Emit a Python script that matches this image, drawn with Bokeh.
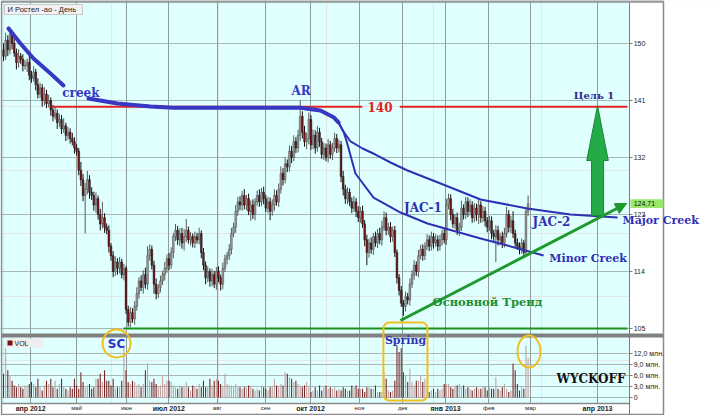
from bokeh.plotting import figure
from bokeh.models import Range1d, FixedTicker, Grid, Label, Arrow, NormalHead, ColumnDataSource
from bokeh.embed import file_html
from bokeh.resources import INLINE
from bokeh.core.properties import value

# ---------------- data ----------------
first_open = 149.0
close = [
    148, 150.5, 149, 151.5, 150, 148.5, 147, 148, 147.5, 146.5,
    146.5, 147, 145, 144.5, 145.5, 143.5, 142, 143, 141, 142,
    140.5, 141, 139.5, 138.5, 139, 137.5, 138, 136.5, 137, 135.5,
    136, 135, 134.5, 133.5, 133, 130, 128.5, 126, 127, 128.5,
    126.5, 126, 124.5, 125.5, 123, 121.5, 122.5, 121, 120.5, 118,
    116.5, 114, 115.5, 114.5, 115.5, 113.5, 114.5, 108, 106, 107.5,
    106.5, 108.5, 110.5, 112.5, 111.5, 113.5, 112, 116.5, 117.5, 115,
    112, 110.5, 111.5, 112.5, 113.5, 114.5, 116, 115, 117, 119.5,
    120.5, 119, 120, 118.5, 119.5, 120.5, 119, 119.5, 118.5, 119.5,
    119, 120, 117, 115, 113, 114, 112.5, 113.5, 112, 114,
    113, 112, 114.5, 116, 116.5, 117.5, 120, 121, 123.5, 125,
    124.5, 126, 124.5, 125.5, 123.5, 124.5, 123, 125, 126, 125,
    126.5, 125.5, 124, 125, 123.5, 124.5, 126, 125, 127, 129.5,
    128.5, 131, 130.5, 133, 132, 134.5, 133.5, 135.5, 138.5, 136,
    134.5, 135, 138, 134, 135.5, 133.5, 136, 134.5, 132.5, 133.5,
    132, 134, 132.5, 133.5, 135, 133.5, 134, 129, 127, 125.5,
    126.5, 125, 124, 125, 123.5, 122.5, 123.5, 121.5, 119, 117,
    118.5, 117.5, 119.5, 118.5, 120, 119, 121, 122.5, 120.5, 121,
    119.5, 120.5, 117, 113, 111, 109, 108.5, 110, 109.5, 112,
    113.5, 115, 114, 116.5, 117.5, 116.5, 118, 119, 118, 119.5,
    118.5, 119, 118, 119, 120, 119, 124.5, 125.5, 123, 121.5,
    122.5, 120.5, 121, 124, 123, 125, 123.5, 124.5, 122.5, 124,
    123, 124.5, 122.5, 123.5, 122, 121, 122, 120, 119.5, 120.5,
    119, 119.5, 118.5, 120, 123, 121, 122, 120, 118.5, 118,
    117.5, 118.5, 117, 123.5, 124.71,
]
wick_up = [
    1.0, 1.2, 0.8, 1.0, 0.6, 0.9, 0.7, 1.1, 0.5, 0.8,
    0.9, 0.6, 1.2, 0.7, 0.9, 0.5, 1.0, 0.8, 0.6, 1.1,
    0.7, 0.9, 0.5, 0.8, 1.0, 0.6, 0.9, 0.7, 1.2, 0.5,
    0.8, 0.6, 0.9, 0.7, 0.6, 0.5, 1.3, 0.9, 1.0, 1.4,
    0.7, 0.8, 0.6, 1.0, 0.5, 0.9, 2.5, 0.7, 0.6, 0.8,
    0.5, 0.7, 0.9, 0.6, 0.8, 0.5, 0.7, 0.4, 0.6, 0.9,
    0.7, 0.8, 1.0, 0.6, 0.9, 0.7, 1.1, 1.5, 0.8, 0.6,
    0.7, 0.9, 0.5, 0.8, 0.6, 1.0, 0.7, 0.9, 0.8, 0.6,
    1.0, 0.7, 0.8, 0.9, 1.2, 1.8, 0.6, 0.7, 0.5, 0.8,
    0.6, 0.9, 0.5, 0.7, 0.6, 0.8, 0.5, 0.9, 0.6, 0.7,
    0.8, 0.5, 0.9, 0.7, 0.6, 0.8, 0.9, 0.7, 1.0, 0.8,
    0.9, 0.7, 1.0, 0.6, 0.8, 0.7, 0.9, 0.6, 0.8, 1.0,
    0.7, 0.9, 0.6, 0.8, 0.7, 0.9, 1.0, 0.8, 0.9, 1.1,
    0.8, 1.0, 0.7, 0.9, 0.8, 1.0, 0.7, 0.9, 2.5, 0.8,
    1.0, 0.9, 1.1, 0.7, 0.9, 0.8, 1.0, 0.7, 0.6, 0.8,
    0.7, 0.9, 0.6, 0.8, 0.9, 0.7, 0.8, 0.6, 0.9, 0.7,
    0.8, 0.6, 0.7, 0.9, 0.6, 0.8, 0.7, 0.9, 0.6, 0.8,
    0.7, 0.9, 0.6, 0.8, 0.7, 0.9, 1.0, 1.0, 0.8, 0.7,
    0.8, 0.6, 0.7, 0.5, 0.6, 0.7, 0.5, 0.8, 0.6, 0.9,
    0.7, 0.8, 0.6, 0.9, 0.7, 0.8, 0.6, 0.9, 0.7, 0.8,
    0.6, 0.9, 0.7, 0.8, 0.6, 0.7, 1.0, 0.8, 0.7, 0.9,
    0.6, 0.8, 0.7, 1.2, 0.6, 0.8, 0.7, 0.9, 0.6, 0.8,
    0.7, 0.9, 0.6, 0.8, 0.7, 0.6, 0.8, 0.7, 0.6, 0.8,
    0.7, 0.6, 0.8, 0.9, 1.2, 0.7, 0.8, 1.5, 0.6, 0.7,
    0.6, 0.7, 0.5, 0.6, 1.3,
]
wick_dn = [
    0.8, 0.6, 1.0, 0.7, 0.9, 0.6, 1.1, 0.8, 0.7, 0.9,
    0.6, 1.0, 0.8, 0.7, 0.5, 0.9, 0.7, 0.6, 1.0, 0.8,
    0.7, 0.6, 0.9, 0.8, 0.5, 1.0, 0.7, 0.8, 0.6, 0.9,
    0.7, 0.8, 0.6, 0.9, 0.7, 0.8, 1.0, 0.9, 6.0, 0.8,
    1.0, 0.7, 0.9, 1.2, 0.8, 1.0, 0.7, 0.9, 0.6, 1.0,
    0.8, 0.9, 0.7, 1.0, 0.8, 0.6, 0.9, 0.7, 0.7, 0.8,
    0.6, 0.9, 0.7, 0.8, 0.6, 1.0, 0.7, 0.9, 0.8, 0.7,
    1.5, 0.9, 0.7, 0.8, 0.6, 0.9, 0.7, 0.8, 0.6, 0.9,
    0.7, 0.8, 1.0, 0.9, 1.2, 0.8, 0.6, 0.9, 0.7, 0.8,
    0.6, 0.7, 0.9, 0.8, 1.0, 0.7, 0.9, 0.8, 0.6, 0.9,
    0.7, 1.0, 0.8, 0.6, 0.9, 0.7, 0.8, 0.6, 0.9, 0.7,
    0.8, 0.9, 0.7, 0.8, 0.6, 1.5, 0.7, 0.9, 0.6, 0.8,
    0.7, 0.9, 0.6, 0.8, 1.4, 0.7, 0.9, 0.6, 0.8, 0.7,
    0.9, 0.6, 0.8, 0.7, 0.9, 0.6, 0.8, 0.7, 0.9, 1.0,
    0.8, 1.2, 0.9, 0.8, 0.7, 0.9, 0.6, 0.8, 0.7, 0.9,
    0.6, 0.8, 0.7, 0.9, 0.6, 0.8, 0.7, 0.9, 1.0, 0.8,
    0.9, 0.7, 0.8, 0.6, 0.9, 0.7, 0.8, 0.6, 1.0, 2.0,
    0.8, 0.7, 0.9, 0.6, 0.8, 0.7, 0.9, 0.6, 0.8, 0.7,
    0.9, 0.8, 0.7, 0.9, 0.8, 0.6, 1.5, 0.8, 0.7, 0.9,
    0.6, 0.8, 0.7, 0.9, 0.6, 0.8, 0.7, 0.6, 0.8, 0.7,
    0.9, 0.6, 0.8, 0.7, 0.9, 0.6, 0.8, 0.7, 0.9, 0.6,
    0.8, 0.7, 0.9, 0.6, 0.8, 0.7, 0.9, 0.6, 0.8, 0.7,
    1.0, 1.5, 0.8, 0.7, 0.9, 0.8, 0.6, 0.9, 0.7, 4.0,
    0.9, 0.6, 0.8, 0.7, 0.6, 0.8, 0.9, 0.7, 0.8, 0.6,
    0.8, 0.7, 0.9, 0.6, 0.7,
]
volume_mln = [
    6.5, 13.4, 7.4, 6.0, 4.6, 3.3, 2.8, 3.7, 2.8, 2.4,
    3.3, 3.3, 3.7, 4.2, 3.7, 2.8, 5.1, 2.8, 1.9, 3.3,
    4.6, 3.7, 5.1, 2.8, 4.6, 2.4, 3.7, 5.1, 2.8, 2.4,
    1.9, 2.8, 2.4, 5.1, 3.3, 2.4, 6.9, 4.2, 2.8, 3.3,
    3.7, 2.4, 2.8, 5.1, 5.1, 6.5, 4.2, 7.4, 4.6, 4.6,
    3.3, 5.1, 2.4, 2.8, 2.8, 4.6, 13.5, 7.4, 4.2, 3.7,
    4.6, 4.2, 3.3, 3.7, 2.8, 3.7, 7.4, 9.3, 4.6, 4.2,
    5.1, 3.7, 2.8, 3.3, 6.0, 3.7, 4.6, 4.6, 4.2, 3.3,
    2.8, 2.4, 3.3, 2.8, 2.8, 4.2, 2.8, 1.9, 3.3, 2.8,
    2.4, 3.7, 2.8, 4.6, 2.8, 2.8, 5.1, 3.3, 4.6, 5.1,
    4.6, 3.7, 2.8, 6.5, 3.7, 3.3, 3.3, 2.8, 3.7, 2.8,
    2.8, 2.4, 2.8, 2.8, 3.3, 3.3, 2.4, 1.9, 2.4, 1.9,
    3.3, 2.8, 2.4, 1.9, 2.8, 2.8, 5.1, 3.3, 2.8, 3.7,
    3.3, 6.9, 6.5, 5.5, 5.1, 4.2, 4.6, 3.7, 3.3, 2.8,
    3.3, 4.2, 2.8, 1.5, 1.9, 2.8, 1.9, 3.3, 1.9, 2.8,
    3.3, 2.4, 2.8, 2.4, 2.8, 1.9, 2.4, 1.9, 2.8, 2.4,
    1.9, 1.9, 3.3, 2.8, 3.3, 2.4, 2.4, 2.4, 1.5, 2.8,
    2.8, 2.4, 2.4, 3.3, 1.5, 1.5, 1.5, 6.9, 5.1, 1.9,
    1.5, 1.9, 4.6, 14.2, 12.4, 13.4, 6.9, 6.0, 4.2, 7.9,
    4.2, 3.3, 4.6, 4.6, 6.0, 4.2, 5.1, 2.8, 1.5, 1.9,
    2.4, 1.5, 2.4, 1.9, 2.4, 3.7, 3.7, 3.7, 2.8, 2.4,
    3.3, 3.3, 3.7, 2.8, 3.3, 2.4, 2.8, 2.4, 1.9, 2.4,
    2.8, 2.4, 2.4, 2.8, 2.8, 1.9, 2.8, 2.4, 2.4, 5.5,
    2.4, 1.9, 2.8, 3.7, 2.4, 1.5, 1.9, 9.3, 7.4, 3.7,
    1.9, 2.8, 2.4, 14.2, 10.9,
]

month_pos = [12.6, 34.0, 57.2, 76.9, 99.4, 121.9, 142.8, 165.6, 185.7, 205.6, 225.7, 245.1, 276.3]
month_labels = ["апр 2012", "май", "июн", "июл 2012", "авг", "сен", "окт 2012",
                "ноя", "дек", "янв 2013", "фев", "мар", "апр 2013"]
month_major = [True, False, False, True, False, False, True, False, False, True, False, False, True]

price_ticks = [105, 114, 123, 132, 141, 150]
vol_ticks = [0, 3, 6, 9, 12]
vol_tick_labels = ["0", "3,0 млн.", "6,0 млн.", "9,0 млн.", "12,0 млн."]
last_price = 124.71
level_140 = 140
level_105 = 105
target_price = 140.2

# annotation geometry in data space (bar index, price)
creek_top_x = [2.33, 7.9, 13.95, 21.86, 27.9]
creek_top_y = [152.37, 150.0, 147.63, 145.26, 143.37]
creek_x = [39.5, 53.0, 68.4, 79.1, 138.1, 147.4, 153.5, 155.8]
creek_y = [141.32, 140.53, 140.05, 139.85, 139.85, 139.42, 138.36, 137.53]
major_x = [155.8, 158.1, 161.4, 167.0, 173.0, 180.0, 187.9, 203.3, 221.9, 243.7, 263.7, 285.6]
major_y = [137.53, 136.1, 134.53, 133.42, 132.47, 131.21, 129.95, 127.89, 125.37, 123.95, 123.0, 122.52]
minor_x = [155.8, 158.1, 159.5, 163.7, 172.1, 184.7, 197.2, 221.9, 234.4, 251.2]
minor_y = [137.53, 136.1, 134.68, 129.47, 125.68, 123.31, 121.58, 119.21, 118.1, 116.52]
trend_x = [184.65, 289.8]
trend_y = [106.26, 124.74]

# ---------------- frame geometry (whole canvas is the frame) ----------------
X_LO, X_HI = -1.3953, 333.488        # bar-index range across the 720 px canvas
P_LO, P_HI = 91.263, 156.789         # price range across the 415 px canvas
V_LO, V_HI = -4.909, 108.273         # volume (млн.) range across the canvas
X_PLOT = 291.163                     # right edge of the plotting area (price axis line)
X_BORDER = 306.977                   # outer right border of the chart box
X_LEFT = -0.93
P_TOP = 156.63
P_SEP_TOP, P_SEP_BOT = 104.21, 103.58
P_ROW_TOP, P_ROW_BOT = 93.158, 91.421
P_ROW_MID = 92.37


def vol_to_price(v):
    return P_LO + (v - V_LO) * (P_HI - P_LO) / (V_HI - V_LO)


n = min(len(close), len(wick_up), len(wick_dn), len(volume_mln))
idx = list(range(n))
opens = [first_open] + close[:n - 1]
tops = [max(o, c) for o, c in zip(opens, close[:n])]
bots = [min(o, c) for o, c in zip(opens, close[:n])]
highs = [t + w for t, w in zip(tops, wick_up[:n])]
lows = [b - w for b, w in zip(bots, wick_dn[:n])]
ups = [c >= o for o, c in zip(opens, close[:n])]

src = ColumnDataSource(dict(
    idx=idx, top=tops, bot=bots, high=highs, low=lows, vol=volume_mln[:n],
    bcol=["#9c9c9c" if u else "#7e1616" for u in ups],
    lcol=["#4a4a4a" if u else "#111111" for u in ups],
    wcol=["#5a5a5a" if u else "#111111" for u in ups],
    vcol=["#c2a0a0" if u else "#7a2323" for u in ups],
))

p = figure(width=720, height=415, x_range=Range1d(X_LO, X_HI), y_range=Range1d(P_LO, P_HI),
           output_backend="svg", toolbar_location=None,
           y_axis_location=None, x_axis_location=None,
           min_border=0, min_border_left=0, min_border_right=0, min_border_top=0, min_border_bottom=0)
p.extra_y_ranges = {"vol": Range1d(V_LO, V_HI)}
p.background_fill_color = "#e0ffff"
p.border_fill_color = "white"
p.outline_line_color = None

vol_tick_pos = [vol_to_price(v) for v in vol_ticks]
all_ticks = vol_tick_pos + price_ticks
p.add_layout(Grid(dimension=1, ticker=FixedTicker(ticks=all_ticks), grid_line_color="#a9b7b7"))
p.add_layout(Grid(dimension=0, ticker=FixedTicker(ticks=month_pos), grid_line_color="#8f9c9c"))

# volume bars
p.vbar(x="idx", top="vol", bottom=0, width=0.5, fill_color="vcol", line_color=None,
       y_range_name="vol", source=src)

# candles
p.segment(x0="idx", y0="low", x1="idx", y1="high", line_color="wcol", line_width=1, source=src)
p.vbar(x="idx", top="top", bottom="bot", width=0.8, fill_color="bcol", line_color="lcol",
       line_width=0.5, source=src)

# chart chrome: axis area, date row, separator, borders
p.quad(left=X_PLOT, right=X_HI, bottom=P_LO, top=P_HI, fill_color="white", line_color=None)
p.quad(left=X_LO, right=X_HI, bottom=P_LO, top=P_ROW_TOP, fill_color="white", line_color=None)
p.quad(left=X_LEFT, right=X_BORDER, bottom=P_SEP_BOT, top=P_SEP_TOP, fill_color="#808080", line_color=None)
p.segment(x0=X_LEFT, x1=X_PLOT, y0=P_ROW_TOP, y1=P_ROW_TOP, line_color="#8a8a8a", line_width=1.5)
p.segment(x0=X_PLOT, x1=X_PLOT, y0=P_ROW_BOT, y1=P_TOP, line_color="#7a7a7a", line_width=1)
p.quad(left=X_LEFT, right=X_BORDER, bottom=P_ROW_BOT, top=P_TOP, fill_color=None,
       line_color="#8a8a8a", line_width=1.5)
p.segment(x0=X_LEFT, x1=X_BORDER, y0=P_TOP, y1=P_TOP, line_color="#9a9a9a", line_width=2.5)

# price / volume axis ticks and labels
tick_len = 3 / 2.15
tick_labels = vol_tick_labels + [str(t) for t in price_ticks]
p.segment(x0=[X_PLOT] * len(all_ticks), x1=[X_PLOT + tick_len] * len(all_ticks),
          y0=all_ticks, y1=all_ticks, line_color="#7a7a7a", line_width=1)
p.text(x=[X_PLOT + 4.2 / 2.15] * len(all_ticks), y=all_ticks, text=tick_labels,
       text_font=value("Liberation Sans"), text_font_size="7px", text_color="#222222",
       text_baseline="middle", text_align="left")

# month labels
msrc = ColumnDataSource(dict(
    x=month_pos, y=[P_ROW_MID] * len(month_pos), t=month_labels,
    fs=["7px" if m else "6px" for m in month_major],
    fw=["bold" if m else "normal" for m in month_major],
))
p.text(x="x", y="y", text="t", source=msrc, text_font=value("Liberation Sans"),
       text_font_size="fs", text_font_style="fw", text_align="center",
       text_baseline="middle", text_color="#222222")

# last price marker
p.quad(left=X_PLOT + 0.5, right=X_BORDER, bottom=last_price - 0.7, top=last_price + 0.7,
       fill_color="#99e86c", line_color=None)
p.text(x=[X_PLOT + 4.2 / 2.15], y=[last_price], text=["124,71"], text_font=value("Liberation Sans"),
       text_font_size="7px", text_color="#111111", text_baseline="middle", text_align="left")

# horizontal levels
p.line([22.8, 166.9], [level_140, level_140], line_color="#e52222", line_width=2)
p.line([184.3, 290.2], [level_140, level_140], line_color="#e52222", line_width=2)
p.line([55.8, 290.2], [level_105, level_105], line_color="#1d8f1d", line_width=2)

# creek curves
BLUE = "#3737c4"
p.line(creek_top_x, creek_top_y, line_color=BLUE, line_width=4, line_cap="round", line_join="round")
p.line(creek_x, creek_y, line_color=BLUE, line_width=4, line_cap="round", line_join="round")
p.line(major_x, major_y, line_color="#3030b4", line_width=2, line_join="round")
p.line(minor_x, minor_y, line_color="#3030b4", line_width=2, line_join="round")

# main trend arrow
GREEN = "#1e9a2c"
p.add_layout(Arrow(x_start=trend_x[0], y_start=trend_y[0], x_end=trend_x[1], y_end=trend_y[1],
                   line_color=GREEN, line_width=3,
                   end=NormalHead(size=11, fill_color=GREEN, line_color=GREEN)))

# target arrow (Цель 1)
c = 276.3
head_base = 131.53
shaft_bottom = 122.84
hw, sw = 5.0, 2.8
p.patch([c, c + hw, c + sw, c + sw, c - sw, c - sw, c - hw],
        [target_price, head_base, head_base, shaft_bottom, shaft_bottom, head_base, head_base],
        fill_color="#25aa48", line_color="#168a36", line_width=1)

# highlight shapes
YEL = "#f0c020"
p.scatter([52.6], [102.63], marker="circle", size=28, fill_color=None, line_color=YEL, line_width=2)
spring_r = p.quad(left=176.7, right=197.2, bottom=93.63, top=105.94, fill_color=None,
                  line_color=YEL, line_width=2)
try:
    spring_r.glyph.border_radius = 6
except Exception:
    pass
p.ellipse(x=[244.4], y=[101.37], width=23, height=32, width_units="screen", height_units="screen",
          fill_color=None, line_color=YEL, line_width=2)

# legends of the panes
p.quad(left=0.47, right=36.74, bottom=154.58, top=156.16, fill_color="#f2f2f2", line_color="#c8c8c8")
p.text(x=[1.86], y=[155.37], text=["И Ростел -ао - День"], text_font=value("Liberation Sans"),
       text_font_size="7.5px", text_color="#222222", text_baseline="middle", text_align="left")
p.quad(left=0.93, right=18.6, bottom=102.0, top=103.42, fill_color="#eeeeee", line_color=None)
p.quad(left=1.86, right=4.19, bottom=102.32, top=103.1, fill_color="#7a1414", line_color=None)
p.text(x=[5.12], y=[102.71], text=["VOL"], text_font=value("Liberation Sans"),
       text_font_size="7px", text_color="#222222", text_baseline="middle", text_align="left")

# text annotations
SERIF = "DejaVu Serif"


def lab(text, x, y, color, size="12px", font=SERIF, align="center", style="bold"):
    p.add_layout(Label(x=x, y=y, text=text, text_color=color, text_font=font,
                       text_font_size=size, text_font_style=style, text_align=align,
                       text_baseline="middle"))


lab("creek", 36.0, 142.18, BLUE)
lab("AR", 138.4, 142.5, BLUE)
lab("140", 175.1, level_140, "#e52222")
lab("Цель 1", 274.65, 141.75, "#2b2b8c", size="10px")
lab("JAC-1", 195.1, 124.1, "#3030b4")
lab("JAC-2", 254.9, 121.82, "#3030b4")
lab("Major Creek", 287.9, 122.05, "#3030b4", size="11px", align="left")
lab("Minor Creek", 271.9, 116.05, "#3030b4", size="11px")
lab("Основной Тренд", 225.1, 109.26, "#1e8f30", size="11.5px")
lab("SC", 52.6, 102.63, "#3030c8", font="DejaVu Sans")
lab("Spring", 187.0, 103.1, "#3030b4", size="11px")
lab("WYCKOFF", 273.3, 97.1, "#111111")

open("out.html", "w").write(file_html(p, INLINE))
